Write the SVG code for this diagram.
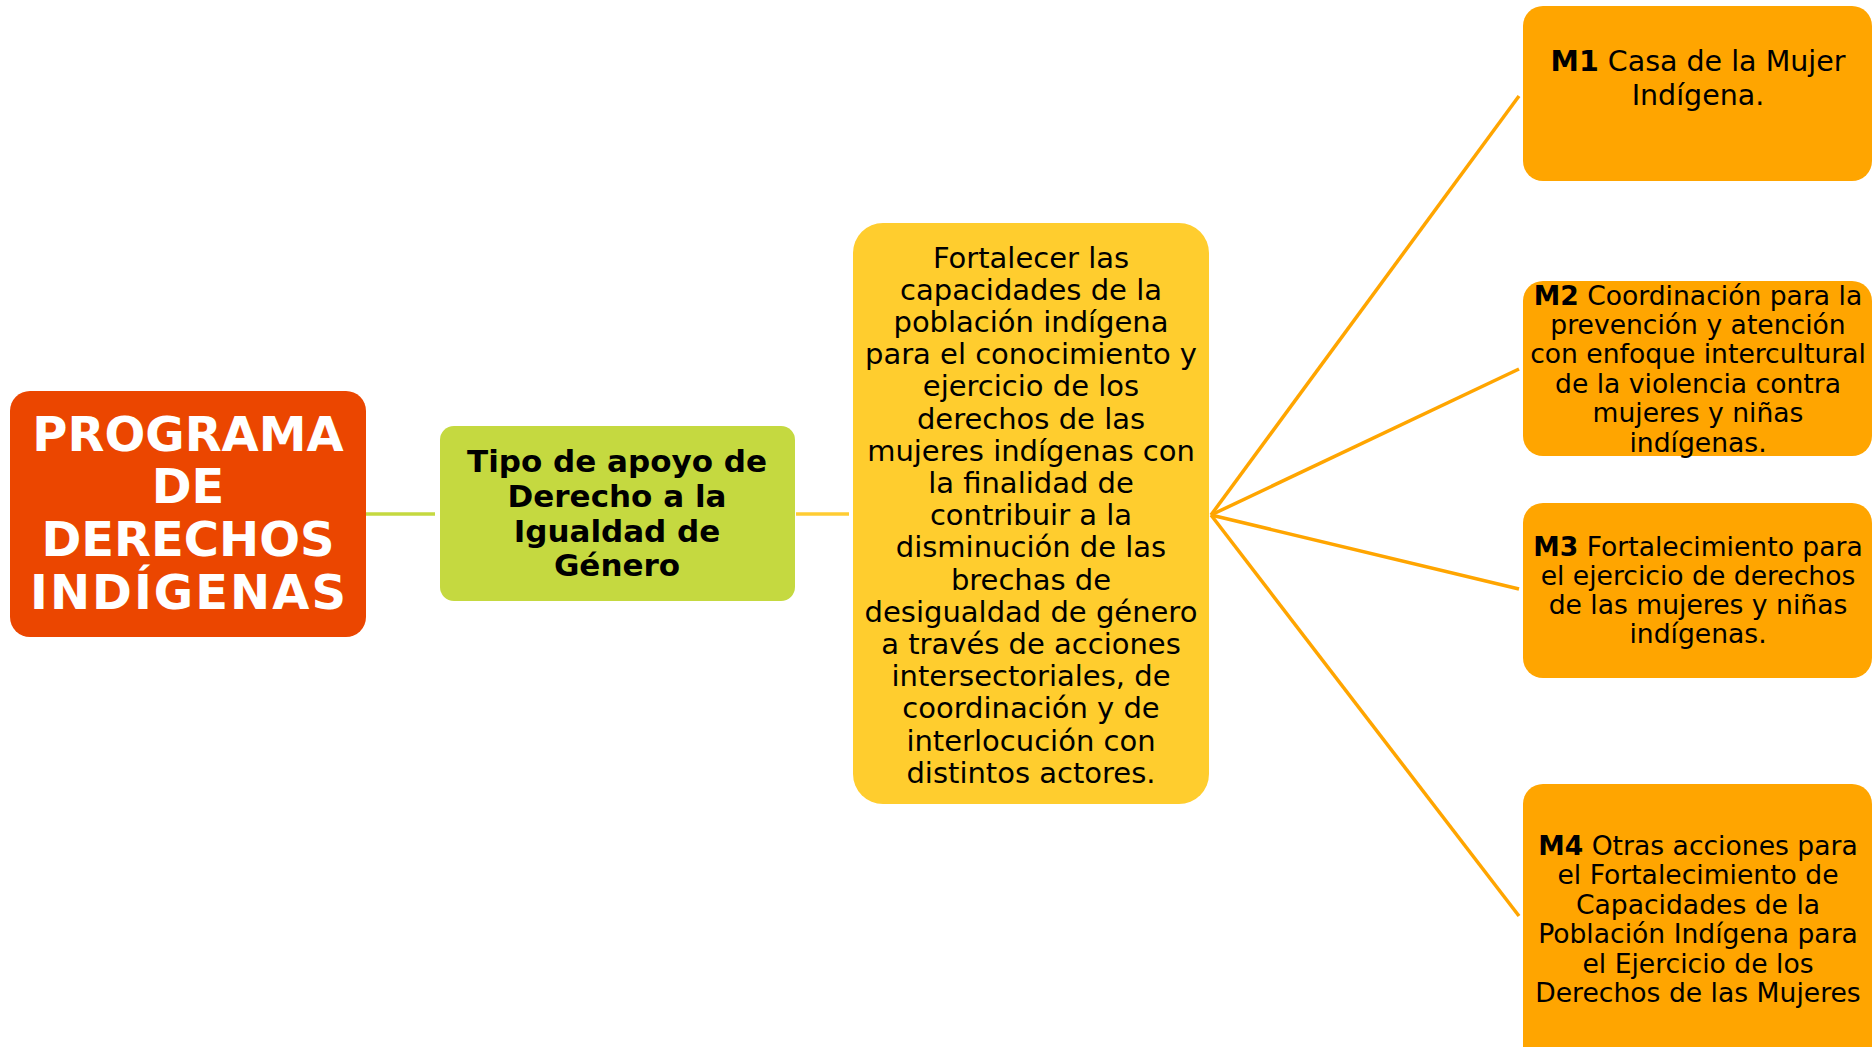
<svg xmlns="http://www.w3.org/2000/svg" width="1873" height="1047" viewBox="0 0 1873 1047">
<style>
text{font-family:"DejaVu Sans","Verdana",sans-serif;text-anchor:middle;fill:#000}
.t1{font-size:48px;font-weight:bold;fill:#fff}
.t2{font-size:31px;font-weight:bold}
.t3{font-size:29px}
.tm{font-size:26.6px}
.tm1{font-size:28.5px}
.b{font-weight:bold}
.m{fill:#FFA500}
.c{fill:none;stroke-width:3.5}
</style>
<rect width="1873" height="1047" fill="#fff"/>
<g id="connectors">
<line class="c" x1="366" y1="514" x2="435" y2="514" stroke="#C5D940"/>
<line class="c" x1="796" y1="514" x2="849" y2="514" stroke="#FFCC33"/>
<line class="c" x1="1211" y1="515" x2="1519" y2="96" stroke="#FFA500"/>
<line class="c" x1="1211" y1="515" x2="1519" y2="369" stroke="#FFA500"/>
<line class="c" x1="1211" y1="515" x2="1519" y2="589" stroke="#FFA500"/>
<line class="c" x1="1211" y1="515" x2="1519" y2="916" stroke="#FFA500"/>
</g>
<g id="programa">
<rect x="10" y="391" width="356" height="246" rx="20" fill="#EB4600"/>
<text class="t1"><tspan x="188" y="451">PROGRAMA</tspan><tspan x="188" y="503">DE</tspan><tspan x="188" y="556">DERECHOS</tspan><tspan x="188" y="609" textLength="316" lengthAdjust="spacing">INDÍGENAS</tspan></text>
</g>
<g id="tipo">
<rect x="440" y="426" width="355" height="175" rx="14" fill="#C5D940"/>
<text class="t2"><tspan x="617" y="472">Tipo de apoyo de</tspan><tspan x="617" y="506.5">Derecho a la</tspan><tspan x="617" y="541.5">Igualdad de</tspan><tspan x="617" y="576">Género</tspan></text>
</g>
<g id="objetivo">
<rect x="853" y="223" width="356" height="581" rx="30" fill="#FFCD2E"/>
<text class="t3"><tspan x="1031" y="267.5">Fortalecer las</tspan><tspan x="1031" y="299.7">capacidades de la</tspan><tspan x="1031" y="331.9">población indígena</tspan><tspan x="1031" y="364.1">para el conocimiento y</tspan><tspan x="1031" y="396.3">ejercicio de los</tspan><tspan x="1031" y="428.5">derechos de las</tspan><tspan x="1031" y="460.7">mujeres indígenas con</tspan><tspan x="1031" y="492.9">la finalidad de</tspan><tspan x="1031" y="525.1">contribuir a la</tspan><tspan x="1031" y="557.3">disminución de las</tspan><tspan x="1031" y="589.5">brechas de</tspan><tspan x="1031" y="621.7">desigualdad de género</tspan><tspan x="1031" y="653.9">a través de acciones</tspan><tspan x="1031" y="686.1">intersectoriales, de</tspan><tspan x="1031" y="718.3">coordinación y de</tspan><tspan x="1031" y="750.5">interlocución con</tspan><tspan x="1031" y="782.7">distintos actores.</tspan></text>
</g>
<g id="m1">
<rect class="m" x="1523" y="6" width="349" height="175" rx="20"/>
<text class="tm1"><tspan x="1698" y="70.5"><tspan class="b">M1</tspan> Casa de la Mujer</tspan><tspan x="1698" y="105">Indígena.</tspan></text>
</g>
<g id="m2">
<rect class="m" x="1523" y="281" width="349" height="175" rx="20"/>
<text class="tm"><tspan x="1698" y="304.6"><tspan class="b">M2</tspan> Coordinación para la</tspan><tspan x="1698" y="334">prevención y atención</tspan><tspan x="1698" y="363.4">con enfoque intercultural</tspan><tspan x="1698" y="392.8">de la violencia contra</tspan><tspan x="1698" y="422.2">mujeres y niñas</tspan><tspan x="1698" y="451.6">indígenas.</tspan></text>
</g>
<g id="m3">
<rect class="m" x="1523" y="503" width="349" height="175" rx="20"/>
<text class="tm"><tspan x="1698" y="555.5"><tspan class="b">M3</tspan> Fortalecimiento para</tspan><tspan x="1698" y="584.5">el ejercicio de derechos</tspan><tspan x="1698" y="613.5">de las mujeres y niñas</tspan><tspan x="1698" y="642.5">indígenas.</tspan></text>
</g>
<g id="m4">
<rect class="m" x="1523" y="784" width="349" height="290" rx="20"/>
<text class="tm"><tspan x="1698" y="855"><tspan class="b">M4</tspan> Otras acciones para</tspan><tspan x="1698" y="884.4">el Fortalecimiento de</tspan><tspan x="1698" y="913.8">Capacidades de la</tspan><tspan x="1698" y="943.2">Población Indígena para</tspan><tspan x="1698" y="972.6">el Ejercicio de los</tspan><tspan x="1698" y="1002">Derechos de las Mujeres</tspan></text>
</g>
</svg>
